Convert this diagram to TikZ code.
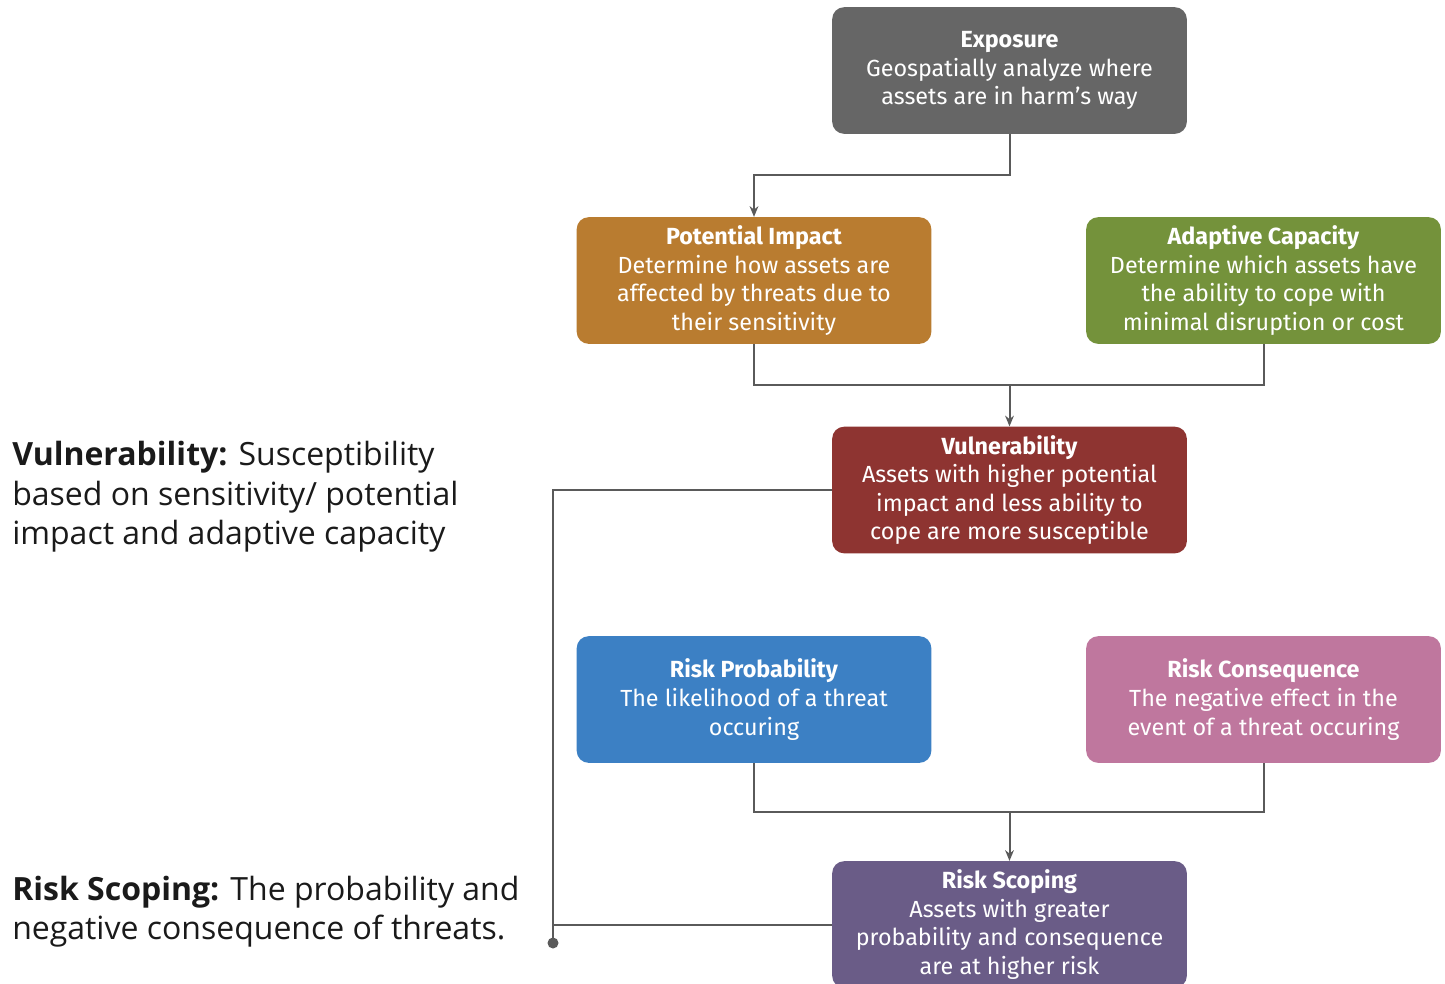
\documentclass[tikz,border=0pt]{standalone}
\usepackage{fontspec}
\setmainfont{Fira Sans}
\newfontfamily\sidefont{Open Sans}
\usetikzlibrary{arrows.meta}
\definecolor{cExpo}{HTML}{666666}
\definecolor{cPI}{HTML}{B97C30}
\definecolor{cAC}{HTML}{74923B}
\definecolor{cVul}{HTML}{8E3431}
\definecolor{cRP}{HTML}{3C80C4}
\definecolor{cRC}{HTML}{BF779E}
\definecolor{cRS}{HTML}{6A5C87}
\definecolor{cLine}{HTML}{5A5A5A}
\definecolor{cSide}{HTML}{1A1A1A}
\tikzset{
  box/.style={rounded corners=9pt, minimum width=266pt, minimum height=95pt,
    text=white, align=center, inner sep=0pt,
    font=\fontsize{17.5}{21.4}\selectfont},
  conn/.style={draw=cLine, line width=1.5pt},
  arr/.style={conn, -{Stealth[length=8pt,width=6.5pt,inset=2.5pt]}},
  side/.style={anchor=west, align=left, text=cSide, inner sep=0pt,
    font=\sidefont\fontsize{24}{29.5}\selectfont},
}
\begin{document}
\begin{tikzpicture}[x=0.75pt,y=-0.75pt]
\useasboundingbox (0,0) rectangle (1445,983);
\node[box, fill=cExpo] (expo) at (1009.5,70.5) {\textbf{Exposure}\\Geospatially analyze where\\assets are in harm's way};
\node[box, fill=cPI] (pi) at (754,280.5) {\textbf{Potential Impact}\\Determine how assets are\\affected by threats due to\\their sensitivity};
\node[box, fill=cAC] (ac) at (1263.5,280.5) {\textbf{Adaptive Capacity}\\Determine which assets have\\the ability to cope with\\minimal disruption or cost};
\node[box, fill=cVul] (vul) at (1009.5,490) {\textbf{Vulnerability}\\Assets with higher potential\\impact and less ability to\\cope are more susceptible};
\node[box, fill=cRP] (rp) at (754,699.5) {\textbf{Risk Probability}\\The likelihood of a threat\\occuring};
\node[box, fill=cRC] (rc) at (1263.5,699.5) {\textbf{Risk Consequence}\\The negative effect in the\\event of a threat occuring};
\node[box, fill=cRS] (rs) at (1009.5,924.5) {\textbf{Risk Scoping}\\Assets with greater\\probability and consequence\\are at higher risk};

\node[side] (tv) at (12,497) {\textbf{Vulnerability:} Susceptibility\\based on sensitivity/ potential\\impact and adaptive capacity};
\node[side] (trs) at (12,912) {\textbf{Risk Scoping:} The probability and\\negative consequence of threats.};

\coordinate (j1) at (1009.5,385);
\coordinate (j2) at (1009.5,812);
\coordinate (dot) at (553,943);

\draw[arr] (expo.south) -- ++(0,41) -| (pi.north);
\draw[conn] (pi.south) |- (j1) -| (ac.south);
\draw[arr] (j1) -- (vul.north);
\draw[conn] (rp.south) |- (j2) -| (rc.south);
\draw[arr] (j2) -- (rs.north);
\draw[conn] (vul.west) -| (dot);
\draw[conn] (rs.west) -- (rs.west -| dot);
\fill[cLine] (dot) circle (5.5);
\end{tikzpicture}
\end{document}
